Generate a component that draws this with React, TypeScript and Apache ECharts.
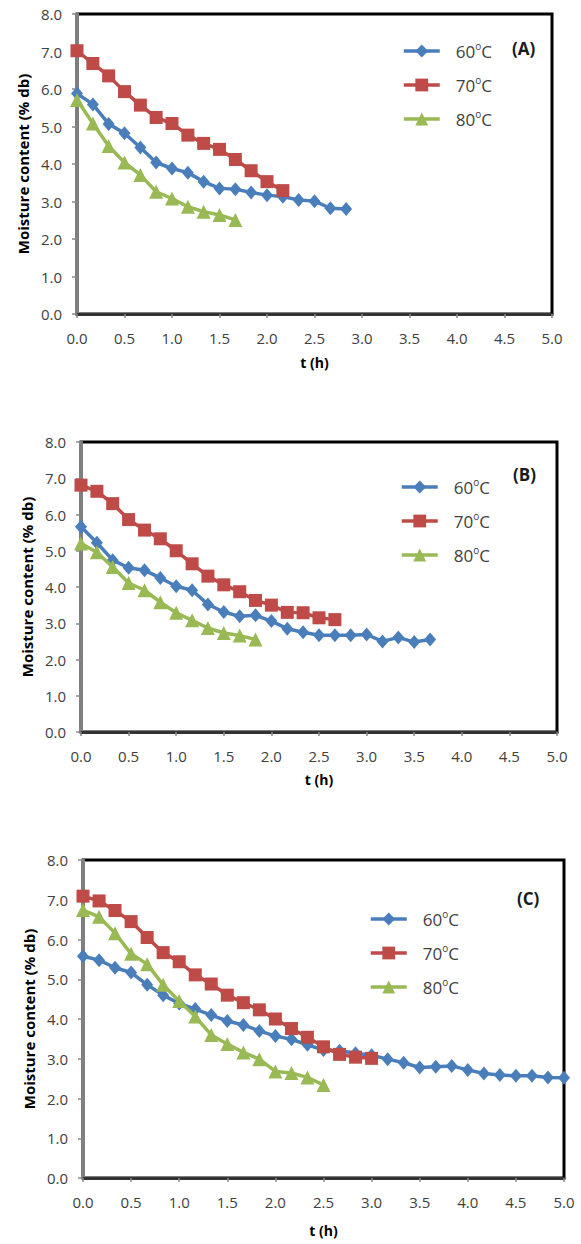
import React, { useEffect, useRef } from "react";
import * as echarts from "echarts";

// Drying time (h), one reading every 10 minutes
const TIME_H = [
  0, 0.167, 0.333, 0.5, 0.667, 0.833, 1.0, 1.167, 1.333, 1.5, 1.667, 1.833, 2.0,
  2.167, 2.333, 2.5, 2.667, 2.833, 3.0, 3.167, 3.333, 3.5, 3.667, 3.833, 4.0,
  4.167, 4.333, 4.5, 4.667, 4.833, 5.0,
];

// Panel (A)
const A_60 = [5.88, 5.59, 5.07, 4.82, 4.44, 4.04, 3.88, 3.77, 3.53, 3.35, 3.33, 3.24, 3.17, 3.13, 3.04, 3.01, 2.82, 2.8];
const A_70 = [7.02, 6.68, 6.35, 5.93, 5.57, 5.24, 5.08, 4.77, 4.55, 4.39, 4.12, 3.82, 3.53, 3.29];
const A_80 = [5.71, 5.08, 4.48, 4.04, 3.71, 3.26, 3.08, 2.86, 2.73, 2.64, 2.51];

// Panel (B)
const B_60 = [5.66, 5.22, 4.74, 4.53, 4.46, 4.25, 4.02, 3.91, 3.52, 3.31, 3.19, 3.22, 3.06, 2.85, 2.75, 2.67, 2.67, 2.67, 2.69, 2.5, 2.61, 2.48, 2.55];
const B_70 = [6.81, 6.64, 6.3, 5.86, 5.57, 5.33, 5.0, 4.64, 4.3, 4.06, 3.87, 3.63, 3.5, 3.3, 3.29, 3.15, 3.1];
const B_80 = [5.2, 4.96, 4.55, 4.11, 3.91, 3.58, 3.29, 3.08, 2.87, 2.73, 2.66, 2.55];

// Panel (C)
const C_60 = [5.58, 5.48, 5.29, 5.17, 4.86, 4.6, 4.39, 4.25, 4.1, 3.95, 3.85, 3.7, 3.57, 3.49, 3.35, 3.22, 3.2, 3.14, 3.09, 2.99, 2.9, 2.78, 2.8, 2.82, 2.72, 2.63, 2.59, 2.57, 2.57, 2.53, 2.52];
const C_70 = [7.09, 6.97, 6.73, 6.45, 6.05, 5.67, 5.44, 5.11, 4.88, 4.6, 4.41, 4.23, 4.0, 3.76, 3.54, 3.3, 3.11, 3.04, 3.01];
const C_80 = [6.74, 6.57, 6.16, 5.64, 5.38, 4.86, 4.45, 4.06, 3.6, 3.37, 3.16, 2.99, 2.68, 2.64, 2.53, 2.34];

const SERIES_NAMES = ["60oC", "70oC", "80oC"];
const PANEL_TAGS = ["(A)", "(B)", "(C)"];
const PANEL_DATA = [
  [A_60, A_70, A_80],
  [B_60, B_70, B_80],
  [C_60, C_70, C_80],
];
const X_AXIS_TITLE = "t (h)";
const Y_AXIS_TITLE = "Moisture content (% db)";

const COLORS = ["#4A7EBB", "#BE4B48", "#98B954"];
const SYMBOLS = ["diamond", "rect", "triangle"];
const SYMBOL_SIZES: any[] = [[12, 14], 13, 14];
const FONT = "'Open Sans', 'Noto Sans', sans-serif";

const LAYOUT = [
  { grid: { left: 77, top: 14, width: 475, height: 300 }, legend: { left: 397, top: 36 }, tag: { left: 512, top: 40 }, xGap: 41, yGap: 43 },
  { grid: { left: 81, top: 442, width: 476, height: 290 }, legend: { left: 395, top: 472 }, tag: { left: 513, top: 466 }, xGap: 40, yGap: 44 },
  { grid: { left: 83, top: 860, width: 481, height: 318 }, legend: { left: 364, top: 904 }, tag: { left: 517, top: 890 }, xGap: 45, yGap: 45 },
];

export default function App() {
  const ref = useRef<HTMLDivElement>(null);

  useEffect(() => {
    document.body.style.margin = "0";
    const chart = echarts.init(ref.current!, null, { renderer: "svg" });

    const grid = LAYOUT.map((p) => ({
      ...p.grid,
      show: true,
      borderColor: "#000",
      borderWidth: 3,
      backgroundColor: "transparent",
    }));

    const xAxis = LAYOUT.map((p, i) => ({
      type: "value",
      gridIndex: i,
      min: 0,
      max: 5,
      interval: 0.5,
      name: X_AXIS_TITLE,
      nameLocation: "middle",
      nameGap: p.xGap,
      nameTextStyle: { fontWeight: "bold", fontSize: 14, color: "#000", fontFamily: FONT },
      axisLine: { show: true, onZero: false, lineStyle: { color: "#333", width: 3 } },
      axisTick: { show: true, length: 4, lineStyle: { color: "#888", width: 1.5 } },
      axisLabel: { margin: 16, fontSize: 15, color: "#404040", fontFamily: FONT, formatter: (v: number) => v.toFixed(1) },
      splitLine: { show: false },
    }));

    const yAxis = LAYOUT.map((p, i) => ({
      type: "value",
      gridIndex: i,
      min: 0,
      max: 8,
      interval: 1,
      name: Y_AXIS_TITLE,
      nameLocation: "middle",
      nameGap: p.yGap,
      nameTextStyle: { fontWeight: "bold", fontSize: 15, color: "#000", fontFamily: FONT },
      axisLine: { show: true, onZero: false, lineStyle: { color: "#7f7f7f", width: 3 } },
      axisTick: { show: true, length: 5, lineStyle: { color: "#888", width: 1.5 } },
      axisLabel: { margin: 15, fontSize: 15, color: "#404040", fontFamily: FONT, formatter: (v: number) => v.toFixed(1) },
      splitLine: { show: false },
    }));

    const series: any[] = [];
    PANEL_DATA.forEach((panel, i) => {
      panel.forEach((vals, k) => {
        series.push({
          type: "line",
          name: SERIES_NAMES[k],
          xAxisIndex: i,
          yAxisIndex: i,
          data: vals.map((v, j) => [TIME_H[j], v]),
          symbol: SYMBOLS[k],
          symbolSize: SYMBOL_SIZES[k],
          showSymbol: true,
          lineStyle: { color: COLORS[k], width: 3.5 },
          itemStyle: { color: COLORS[k] },
          emphasis: { disabled: true },
          z: 2 + k,
        });
      });
    });

    const legend = LAYOUT.map((p) => ({
      orient: "vertical",
      left: p.legend.left,
      top: p.legend.top,
      itemWidth: 36,
      itemHeight: 16,
      itemGap: 14,
      data: SERIES_NAMES,
      lineStyle: { width: 3.5 },
      formatter: (name: string) => name.replace("oC", "{s|o}C"),
      textStyle: {
        fontSize: 17,
        lineHeight: 20,
        color: "#404040",
        fontFamily: FONT,
        padding: [0, 0, 0, 11],
        rich: {
          s: { fontSize: 10, lineHeight: 10, verticalAlign: "top", color: "#404040", fontFamily: FONT },
        },
      },
    }));

    const title = LAYOUT.map((p, i) => ({
      text: PANEL_TAGS[i],
      left: p.tag.left,
      top: p.tag.top,
      padding: 0,
      textStyle: { fontSize: 17, fontWeight: "bold", color: "#1a1a1a", fontFamily: FONT },
    }));

    chart.setOption({
      animation: false,
      backgroundColor: "#fff",
      title,
      legend,
      grid,
      xAxis,
      yAxis,
      series,
    });

    return () => chart.dispose();
  }, []);

  return <div ref={ref} style={{ width: 581, height: 1244 }} />;
}
